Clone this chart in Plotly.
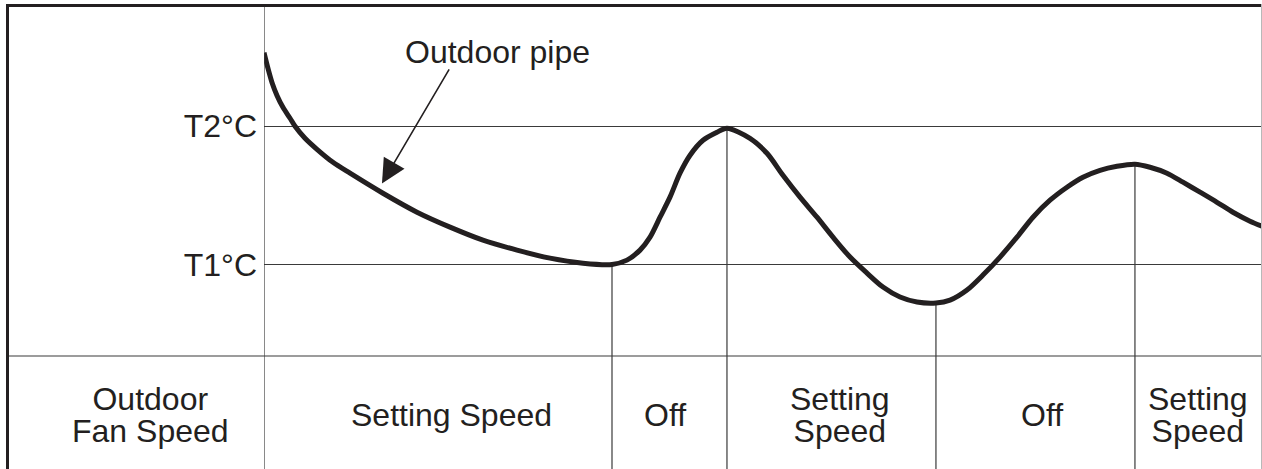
import numpy as np
import plotly.graph_objects as go

# Outdoor pipe temperature over time (time in arbitrary units 0-100, temperature scaled so T1 = 1, T2 = 2)
time = [0.0, 0.40, 0.80, 1.30, 1.90, 2.61, 3.11, 4.11, 5.31, 6.91, 8.62, 11.92, 15.33, 18.64,
        21.94, 25.35, 28.66, 31.96, 34.87,
        36.37, 37.68, 38.68, 39.68, 40.68, 41.68, 42.69, 43.99, 45.39, 46.39,
        48.70, 50.40, 52.00, 53.71, 55.41, 57.01, 58.72, 60.42, 62.02, 63.73, 65.43, 67.33,
        68.74, 70.44, 72.04, 73.75, 75.45, 77.05, 78.76, 80.46, 82.06, 83.77, 85.47, 87.27,
        88.78, 90.48, 92.08, 93.79, 95.49, 97.09, 98.80, 100.0]
pipe_temp = [2.53, 2.416, 2.315, 2.221, 2.135, 2.056, 1.998, 1.912, 1.832, 1.738, 1.659, 1.514, 1.377, 1.269,
             1.175, 1.103, 1.045, 1.009, 1.0,
             1.031, 1.103, 1.197, 1.341, 1.486, 1.659, 1.789, 1.897, 1.955, 1.984,
             1.911, 1.803, 1.644, 1.486, 1.341, 1.197, 1.053, 0.937, 0.836, 0.764, 0.728, 0.721,
             0.742, 0.815, 0.923, 1.053, 1.197, 1.341, 1.464, 1.558, 1.630, 1.680, 1.709, 1.724,
             1.702, 1.659, 1.594, 1.522, 1.449, 1.377, 1.312, 1.276]

temp_levels = [1, 2]
temp_labels = ["T1°C", "T2°C"]

# Moments where the outdoor fan changes state
phase_bounds = [34.87, 46.39, 67.33, 87.27]
fan_states = [["Setting Speed"], ["Off"], ["Setting", "Speed"], ["Off"], ["Setting", "Speed"]]
row_header = ["Outdoor", "Fan Speed"]

# layout constants
W, H = 1262, 469
INK = "#231f20"
GRID = "#3a3a3a"
FONT = "Liberation Sans, Arial, Helvetica, sans-serif"
FS = 32
LINE_FS = 24.6              # base size giving ~32px between stacked lines
X_LEFT = 264 / W            # left edge of the chart area (paper)
TABLE_TOP = 1 - 356 / H     # divider between chart and fan-speed row (paper)
FRAME_TOP = 1 - 5.5 / H
Y_RANGE = [0.338, 2.871]
state_label_t = [18.74, 40.18, 57.72, 77.96, 93.59]
CELL_Y = 1 - 415 / H

fig = go.Figure()
fig.add_trace(go.Scatter(
    x=time, y=pipe_temp, mode="lines",
    line=dict(color=INK, width=5, shape="spline", smoothing=0.8),
    hoverinfo="skip", showlegend=False,
))

shapes = []
# phase boundaries: from the curve down to the bottom of the fan-speed row
for b in phase_bounds:
    v = float(np.interp(b, time, pipe_temp))
    shapes.append(dict(type="line", xref="x", yref="y", x0=b, x1=b, y0=v, y1=Y_RANGE[0],
                       line=dict(color=GRID, width=1.2), layer="below"))
    shapes.append(dict(type="line", xref="x", yref="paper", x0=b, x1=b, y0=0, y1=TABLE_TOP,
                       line=dict(color=GRID, width=1.2), layer="below"))
# column divider between row header and timeline
shapes.append(dict(type="line", xref="x", yref="paper", x0=0, x1=0, y0=0, y1=FRAME_TOP,
                   line=dict(color=GRID, width=1.2)))
# divider between chart and fan-speed row
shapes.append(dict(type="line", xref="paper", yref="paper", x0=6 / W, x1=1, y0=TABLE_TOP, y1=TABLE_TOP,
                   line=dict(color=GRID, width=1.2)))
# outer frame
shapes.append(dict(type="line", xref="paper", yref="paper", x0=6 / W, x1=1, y0=FRAME_TOP, y1=FRAME_TOP,
                   line=dict(color=INK, width=3)))
shapes.append(dict(type="line", xref="paper", yref="paper", x0=7.5 / W, x1=7.5 / W, y0=0, y1=1 - 4 / H,
                   line=dict(color=INK, width=3)))
shapes.append(dict(type="line", xref="paper", yref="paper", x0=1 - 0.5 / W, x1=1 - 0.5 / W, y0=0, y1=1 - 4 / H,
                   line=dict(color="#b8b8b8", width=1)))

annotations = []
# curve label with pointer
annotations.append(dict(x=23.35, y=2.532, xref="x", yref="y", text="Outdoor pipe", showarrow=False,
                        font=dict(size=FS, color=INK, family=FONT), xanchor="center", yanchor="middle"))
annotations.append(dict(x=11.82, y=1.585, xref="x", yref="y", text="", showarrow=True,
                        ax=18.64, ay=2.42, axref="x", ayref="y",
                        arrowhead=2, arrowsize=3.0, arrowwidth=1.6, arrowcolor=INK, standoff=0))


def cell_text(x, lines, xref):
    text = "<br>".join(f'<span style="font-size:{FS}px">{ln}</span>' for ln in lines)
    return dict(x=x, y=CELL_Y, xref=xref, yref="paper", text=text, showarrow=False, align="center",
                font=dict(size=LINE_FS, color=INK, family=FONT), xanchor="center", yanchor="middle")


# fan-speed row
annotations.append(cell_text(150 / W, row_header, "paper"))
for lines, t in zip(fan_states, state_label_t):
    annotations.append(cell_text(t, lines, "x"))

fig.update_layout(
    width=W, height=H, margin=dict(l=0, r=0, t=0, b=0), autosize=False,
    paper_bgcolor="white", plot_bgcolor="white",
    xaxis=dict(domain=[X_LEFT, 1], range=[0, 100], showgrid=False, zeroline=False,
               showticklabels=False, showline=False, fixedrange=True),
    yaxis=dict(domain=[TABLE_TOP, FRAME_TOP], range=Y_RANGE, tickvals=temp_levels, ticktext=temp_labels,
               showgrid=True, gridcolor=GRID, gridwidth=1.2, zeroline=False, showline=False,
               ticks="", ticklabelstandoff=6, tickfont=dict(size=FS, color=INK, family=FONT),
               fixedrange=True),
    shapes=shapes, annotations=annotations, showlegend=False,
)

fig.write_html("out.html")
